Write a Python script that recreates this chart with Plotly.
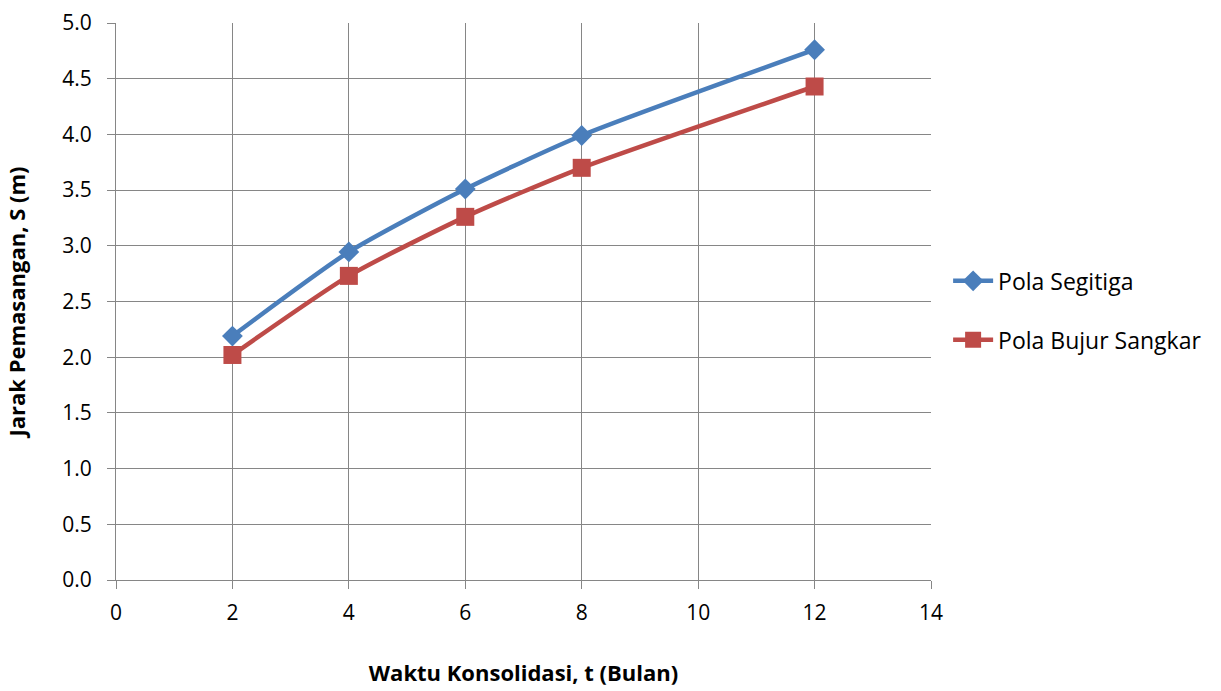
import plotly.graph_objects as go

t_bulan = [2, 4, 6, 8, 12]
s_segitiga = [2.19, 2.945, 3.51, 3.99, 4.76]
s_bujur = [2.02, 2.73, 3.26, 3.70, 4.43]
series_names = ["Pola Segitiga", "Pola Bujur Sangkar"]

FONT = "Open Sans"
FS = 21
GRID = "#868686"

fig = go.Figure()
fig.add_trace(go.Scatter(
    x=t_bulan, y=s_segitiga, name=series_names[0], mode="lines+markers",
    line=dict(color="#4A7EBB", width=4.5, shape="spline", smoothing=0.6),
    marker=dict(symbol="diamond", size=16, color="#4A7EBB"),
    legendgroup="a",
))
fig.add_trace(go.Scatter(
    x=t_bulan, y=s_bujur, name=series_names[1], mode="lines+markers",
    line=dict(color="#BE4B48", width=4.5, shape="spline", smoothing=0.6),
    marker=dict(symbol="square", size=18, color="#BE4B48"),
    legendgroup="b",
))

fig.update_layout(
    width=1221, height=691,
    margin=dict(l=116, r=290, t=23, b=111, autoexpand=False),
    paper_bgcolor="white", plot_bgcolor="white",
    font=dict(family=FONT, size=FS, color="black"),
    legend=dict(x=1.021, y=0.484, xanchor="left", yanchor="middle",
                traceorder="grouped", tracegroupgap=26,
                font=dict(family=FONT, size=23), itemwidth=40),
    showlegend=True,
)
fig.update_xaxes(
    range=[0, 14], tickmode="linear", tick0=0, dtick=2,
    showgrid=True, gridcolor=GRID, gridwidth=1,
    showline=True, linecolor=GRID, linewidth=1, mirror=False,
    ticks="outside", ticklen=8, tickcolor=GRID, ticklabelstandoff=6,
    zeroline=False, automargin=False,
    title=dict(text="<b>Waktu Konsolidasi, t (Bulan)</b>", standoff=40,
               font=dict(family=FONT, size=22)),
)
fig.update_yaxes(
    range=[0, 5], tickmode="linear", tick0=0, dtick=0.5, tickformat=".1f",
    showgrid=True, gridcolor=GRID, gridwidth=1,
    showline=True, linecolor=GRID, linewidth=1,
    ticks="outside", ticklen=8, tickcolor=GRID, ticklabelstandoff=11,
    zeroline=False, automargin=False,
    title=dict(text="<b>Jarak Pemasangan, S (m)</b>", standoff=30,
               font=dict(family=FONT, size=22)),
)

fig.write_html("out.html")
